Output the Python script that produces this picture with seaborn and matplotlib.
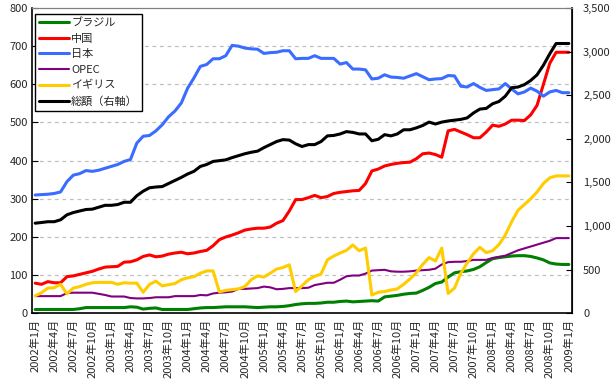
import matplotlib
matplotlib.use("Agg")
import matplotlib.pyplot as plt
import seaborn as sns
import numpy as np
import pandas as pd

# monthly labels, 2002年1月 .. 2009年1月
months = [f"{y}年{m}月" for y in range(2002, 2010) for m in range(1, 13)][:85]

brazil = [10, 10, 10, 10, 10, 10, 10, 12, 15, 15, 15, 15, 15, 15, 15, 17, 16, 11, 13, 14,
          10, 10, 10, 10, 10, 12, 14, 15, 15, 16, 17, 17, 17, 17, 16, 15, 16, 17, 17, 18,
          20, 23, 25, 26, 26, 27, 29, 29, 31, 32, 30, 31, 32, 33, 32, 43, 45, 47, 50, 52,
          53, 60, 68, 78, 82, 95, 106, 109, 111, 115, 122, 133, 143, 146, 148, 150, 151, 151, 149, 145,
          140, 132, 129, 128, 128]
china = [79, 76, 83, 80, 80, 96, 98, 102, 106, 110, 116, 121, 122, 123, 134, 135, 140, 149, 153, 148,
         150, 155, 158, 160, 156, 158, 162, 165, 177, 193, 200, 205, 211, 218, 221, 223, 223, 226, 236, 243,
         268, 298, 298, 303, 309, 303, 306, 314, 317, 319, 321, 322, 340, 373, 378, 386, 390, 393, 395, 396,
         405, 418, 420, 416, 409, 478, 482, 475, 468, 460, 460, 475, 493, 490, 496, 506, 506, 505, 520, 545,
         600, 655, 684, 684, 684]
japan = [310, 311, 312, 314, 318, 345, 362, 366, 374, 372, 375, 380, 385, 390, 398, 403, 446, 464, 466, 478,
         494, 515, 530, 551, 590, 617, 647, 652, 667, 667, 675, 702, 700, 695, 693, 692, 681, 683, 684, 688,
         688, 667, 668, 668, 675, 668, 668, 668, 653, 657, 640, 640, 638, 614, 616, 625, 619, 618, 616, 622,
         628, 620, 612, 614, 615, 623, 622, 595, 593, 602, 592, 584, 586, 588, 602, 588, 575, 580, 590, 582,
         569, 580, 584, 578, 578]
opec = [45, 45, 45, 45, 45, 53, 54, 54, 54, 54, 51, 48, 44, 44, 44, 40, 39, 39, 40, 42,
        42, 42, 45, 45, 45, 45, 48, 47, 52, 54, 55, 57, 64, 64, 65, 66, 70, 68, 63, 64,
        66, 66, 66, 67, 74, 77, 80, 80, 88, 97, 99, 99, 104, 112, 113, 114, 110, 109, 109, 110,
        112, 113, 114, 117, 128, 134, 135, 135, 137, 140, 140, 140, 145, 148, 151, 158, 165, 170, 175, 180,
        185, 190, 197, 197, 197]
uk = [46, 54, 66, 67, 76, 51, 66, 70, 76, 80, 81, 81, 81, 76, 80, 79, 79, 55, 76, 84,
      72, 75, 78, 88, 93, 96, 105, 111, 111, 56, 60, 62, 64, 70, 88, 98, 95, 105, 116, 120,
      127, 57, 72, 88, 97, 103, 140, 150, 158, 165, 179, 164, 171, 48, 55, 57, 61, 64, 76, 90,
      106, 128, 146, 137, 171, 52, 66, 105, 132, 156, 173, 159, 164, 180, 205, 240, 270, 285, 300, 318,
      340, 355, 360, 360, 360]
# total, read on the right axis
total = [1033, 1041, 1050, 1050, 1072, 1129, 1155, 1173, 1190, 1194, 1216, 1238, 1238, 1247, 1273, 1273,
         1348, 1400, 1439, 1448, 1453, 1488, 1523, 1558, 1597, 1628, 1684, 1706, 1741, 1750, 1759, 1785,
         1807, 1829, 1846, 1859, 1899, 1934, 1969, 1991, 1986, 1943, 1912, 1934, 1934, 1969, 2034, 2039,
         2056, 2083, 2074, 2056, 2056, 1978, 1995, 2048, 2034, 2056, 2104, 2104, 2126, 2153, 2192, 2170,
         2192, 2205, 2214, 2223, 2240, 2297, 2341, 2349, 2402, 2428, 2489, 2586, 2594, 2621, 2669, 2734,
         2844, 2975, 3093, 3093, 3093]

series = [
    ("ブラジル", brazil, "#008000", 2.2),
    ("中国", china, "#ff0000", 2.2),
    ("日本", japan, "#3a6cff", 2.2),
    ("OPEC", opec, "#800080", 1.5),
    ("イギリス", uk, "#ffcc00", 2.2),
]

sns.set_style("white")
plt.rcParams["font.family"] = ["Noto Sans CJK JP", "DejaVu Sans"]

fig = plt.figure(figsize=(6.12, 3.87), dpi=100)
ax = fig.add_axes([32 / 612, 1 - 313.3 / 387, 540 / 612, 305.3 / 387])
ax2 = ax.twinx()

idx = np.arange(len(months))
for name, vals, col, lw in series:
    sns.lineplot(x=idx, y=vals, ax=ax, color=col, linewidth=lw, label=name)
sns.lineplot(x=idx, y=total, ax=ax2, color="black", linewidth=2.2, label="総額（右軸）")

for a in (ax, ax2):
    if a.get_legend() is not None:
        a.get_legend().remove()

ax.set_xlim(-0.5, len(months) - 0.5)
ax.set_ylim(0, 800)
ax2.set_ylim(0, 3500)

ax.set_yticks(range(0, 801, 100))
ax.set_yticklabels([str(v) for v in range(0, 801, 100)], fontsize=8)
ax2.set_yticks(range(0, 3501, 500))
ax2.set_yticklabels([f"{v:,}" for v in range(0, 3501, 500)], fontsize=8)

ax.set_xticks(idx[::3])
ax.set_xticklabels(months[::3], rotation=90, fontsize=8, va="top")
ax.set_xticks(np.arange(-0.5, len(months) - 0.5, 3), minor=True)
ax.tick_params(axis="x", which="major", length=0, pad=4)
ax.tick_params(axis="x", which="minor", direction="in", length=4, color="black")
ax.tick_params(axis="y", direction="in", length=4, color="black", pad=3)
ax2.tick_params(axis="y", direction="in", length=4, color="black", pad=8)

for v in range(100, 800, 100):
    ax.axhline(v, color="#c0c0c0", linestyle=(0, (3, 3)), linewidth=0.9, zorder=0)

ax.set_xlabel("")
ax.set_ylabel("")
ax2.set_ylabel("")
for s in ("left", "bottom"):
    ax.spines[s].set_color("black")
    ax.spines[s].set_linewidth(1.2)
ax2.spines["right"].set_color("black")
ax2.spines["right"].set_linewidth(1.2)
ax2.spines["top"].set_color("#808080")
ax.spines["top"].set_color("#808080")
ax2.spines["left"].set_visible(False)
ax2.spines["bottom"].set_visible(False)

h1, l1 = ax.get_legend_handles_labels()
h2, l2 = ax2.get_legend_handles_labels()
leg = ax2.legend(h1 + h2, l1 + l2, loc="upper left", bbox_to_anchor=(0.0056, 0.98),
                 borderaxespad=0, fontsize=8, handlelength=2.7, handletextpad=0.2,
                 labelspacing=0.5, borderpad=0.35, fancybox=False, framealpha=1,
                 edgecolor="black")
leg.get_frame().set_linewidth(1.0)

fig.savefig("out.png", dpi=100)
